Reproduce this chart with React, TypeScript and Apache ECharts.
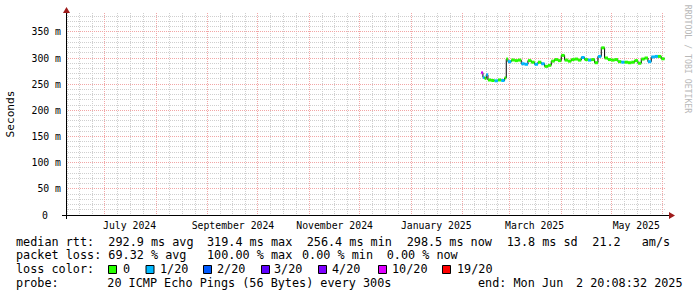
import React, { useEffect, useRef } from "react";
import * as echarts from "echarts";

// ---------- data ----------
const X_START = Date.UTC(2024, 5, 7, 20, 8, 32);
const X_END = Date.UTC(2025, 5, 2, 20, 8, 32);
const Y_MAX = 386;

const dates = [
  "2025-02-13", "2025-02-14", "2025-02-15", "2025-02-16", "2025-02-18", "2025-02-20", "2025-02-22", "2025-02-24", "2025-02-26", "2025-02-27", "2025-02-28",
  "2025-03-02", "2025-03-04", "2025-03-06", "2025-03-08", "2025-03-10", "2025-03-12", "2025-03-14", "2025-03-16", "2025-03-18", "2025-03-20", "2025-03-22", "2025-03-24", "2025-03-26", "2025-03-28", "2025-03-30",
  "2025-04-01", "2025-04-03", "2025-04-05", "2025-04-07", "2025-04-09", "2025-04-11", "2025-04-13", "2025-04-15", "2025-04-17", "2025-04-19", "2025-04-21", "2025-04-23", "2025-04-25", "2025-04-27", "2025-04-29",
  "2025-05-01", "2025-05-03", "2025-05-05", "2025-05-07", "2025-05-09", "2025-05-11", "2025-05-13", "2025-05-15", "2025-05-17", "2025-05-19", "2025-05-21", "2025-05-23", "2025-05-25", "2025-05-27", "2025-05-29", "2025-05-31",
  "2025-06-02",
];

const medianMs = [
  272, 263, 261, 268, 258, 257, 256.4, 258, 257, 262, 298,
  293, 296, 295, 296, 289, 288, 295, 292, 288, 292, 289, 284, 286, 294, 297,
  295, 305, 296, 294, 297, 298, 296, 301, 297, 296, 297, 291, 303, 319.4, 300,
  297, 296, 297, 293, 292, 292, 291, 292, 295, 290, 298, 300, 293, 302, 303, 303,
  298.5,
];

// index into lossLabels / lossColors
const lossIdx = [
  5, 1, 0, 1, 0, 0, 1, 0, 1, 0, 0,
  1, 0, 0, 0, 1, 1, 0, 0, 1, 0, 1, 0, 0, 0, 0,
  0, 0, 0, 0, 0, 0, 0, 1, 0, 1, 0, 0, 1, 0, 0,
  0, 0, 0, 0, 1, 0, 0, 0, 0, 0, 0, 0, 1, 1, 1, 0,
  0,
];

const lossLabels = ["0", "1/20", "2/20", "3/20", "4/20", "10/20", "19/20"];
const lossColors = ["#26ff00", "#00b8ff", "#0059ff", "#5e00ff", "#7e00ff", "#dd00ff", "#ff0000"];

const yTickValues = [0, 50, 100, 150, 200, 250, 300, 350];
const xLabelDates = ["2024-07-16", "2024-09-16", "2024-11-16", "2025-01-16", "2025-03-16", "2025-05-16"];
const monthNames = ["January", "February", "March", "April", "May", "June", "July", "August", "September", "October", "November", "December"];

const rttLegend = ["median rtt:  292.9 ms avg", "319.4 ms max", "256.4 ms min", "298.5 ms now", "13.8 ms sd", "21.2", "am/s"];
const lossLegend = ["packet loss: 69.32 % avg", "100.00 % max", "0.00 % min", "0.00 % now"];
const probeLegend = ["probe:", "20 ICMP Echo Pings (56 Bytes) every 300s", "end: Mon Jun", "2 20:08:32 2025"];

// ---------- layout ----------
const FONT = "DejaVu Sans Mono";
const FS = 11.8;
const AXIS_FS = 9.8;
const rttX = [16, 207, 306.7, 406.7, 506.7, 592.3, 641.7];
const lossX = [16, 207, 302, 386.7];
const probeX = [16, 107.3, 478, 576];
const boxX = [108.5, 146, 203.5, 261.5, 318.5, 378.5, 442.5];
const boxTextX = [123, 160, 217, 274, 332, 392, 457];
const ROW_Y = [241.5, 255.4, 269.4, 283.4];
const MINOR_GRID = "#cfcfcf";
const MAJOR_GRID = "#f2a6a6";

function monthStarts(): number[] {
  const out: number[] = [];
  for (let i = 0; i < 14; i++) out.push(Date.UTC(2024, 5 + i, 1));
  return out;
}

export default function App() {
  const ref = useRef<HTMLDivElement>(null);
  useEffect(() => {
    if (!ref.current) return;
    const chart = echarts.init(ref.current, undefined, { renderer: "svg" });

    const ms = monthStarts();
    const majorX = ms.filter((t) => t > X_START && t < X_END);
    const minorX: number[] = [];
    for (let i = 0; i < ms.length - 1; i++) {
      const s = ms[i], e = ms[i + 1];
      for (let k = 1; k < 4; k++) {
        const t = s + ((e - s) * k) / 4;
        if (t > X_START && t < X_END) minorX.push(t);
      }
    }
    const minorY: number[] = [];
    for (let v = 10; v < Y_MAX; v += 10) if (v % 50 !== 0) minorY.push(v);
    const majorY = yTickValues.filter((v) => v > 0);

    // grid items: [kind(0 vertical,1 horizontal), x, y, major]
    const gridData = [
      ...minorX.map((t) => [0, t, 0, 0]),
      ...minorY.map((v) => [1, X_START, v, 0]),
      ...majorX.map((t) => [0, t, 0, 1]),
      ...majorY.map((v) => [1, X_START, v, 1]),
    ];

    const times = dates.map((d) => Date.parse(d + "T00:00:00Z"));
    const segData = times.map((t, i) => [t, medianMs[i], i === 0 ? t - 86400000 : times[i - 1], lossIdx[i]]);
    const lineData = [[segData[0][2], medianMs[0]], ...times.map((t, i) => [t, medianMs[i]])];

    const text = (x: number, y: number, s: string, extra: any = {}) => ({
      type: "text",
      x,
      y,
      silent: true,
      style: { text: s, fontFamily: FONT, fontSize: FS, fill: "#000", align: "left", verticalAlign: "middle", ...extra },
    });

    const graphics: any[] = [];
    rttLegend.forEach((s, i) => graphics.push(text(rttX[i], ROW_Y[0], s)));
    lossLegend.forEach((s, i) => graphics.push(text(lossX[i], ROW_Y[1], s)));
    graphics.push(text(16, ROW_Y[2], "loss color:"));
    lossLabels.forEach((s, i) => {
      graphics.push({
        type: "rect",
        silent: true,
        shape: { x: boxX[i], y: 265.5, width: 8, height: 8 },
        style: { fill: lossColors[i], stroke: "#000", lineWidth: 1 },
      });
      graphics.push(text(boxTextX[i], ROW_Y[2], s));
    });
    probeLegend.forEach((s, i) => graphics.push(text(probeX[i], ROW_Y[3], s)));
    const seconds: any = text(10, 114, "Seconds", { align: "center", fontSize: 11.2 });
    seconds.rotation = Math.PI / 2;
    graphics.push(seconds);
    graphics.push({
      type: "text",
      x: 688,
      y: 59,
      rotation: -Math.PI / 2,
      silent: true,
      style: { text: "RRDTOOL / TOBI OETIKER", fontFamily: FONT, fontSize: 8.2, fill: "#b8b8b8", align: "center", verticalAlign: "middle" },
    });
    // axis lines + arrows
    graphics.push({ type: "line", silent: true, z: 50, shape: { x1: 62, y1: 215.5, x2: 670, y2: 215.5 }, style: { stroke: "#000", lineWidth: 1 } });
    graphics.push({ type: "line", silent: true, z: 50, shape: { x1: 66.5, y1: 219, x2: 66.5, y2: 12 }, style: { stroke: "#000", lineWidth: 1 } });
    graphics.push({ type: "polygon", silent: true, z: 50, shape: { points: [[669, 212], [669, 219], [675, 215.5]] }, style: { fill: "#9e1b1b" } });
    graphics.push({ type: "polygon", silent: true, z: 50, shape: { points: [[63, 13], [70, 13], [66.5, 7]] }, style: { fill: "#9e1b1b" } });

    chart.setOption({
      animation: false,
      backgroundColor: "#ffffff",
      grid: { left: 66, top: 13, width: 600, height: 202, containLabel: false },
      xAxis: {
        type: "value",
        min: X_START,
        max: X_END,
        axisLine: { show: false },
        axisTick: { show: false },
        splitLine: { show: false },
        axisLabel: {
          customValues: xLabelDates.map((d) => Date.parse(d + "T00:00:00Z")),
          formatter: (v: number) => {
            const d = new Date(v);
            return `${monthNames[d.getUTCMonth()]} ${d.getUTCFullYear()}`;
          },
          fontFamily: FONT,
          fontSize: AXIS_FS,
          color: "#000",
          margin: 5,
          hideOverlap: false,
        },
      },
      yAxis: {
        type: "value",
        min: 0,
        max: Y_MAX,
        interval: 50,
        axisLine: { show: false },
        axisTick: { show: false },
        splitLine: { show: false },
        axisLabel: {
          customValues: yTickValues,
          formatter: (v: number) => (v === 0 ? "{z|0}" : v % 50 === 0 ? `${v} m` : ""),
          rich: { z: { fontFamily: FONT, fontSize: AXIS_FS, color: "#000", padding: [0, 13, 0, 0] } },
          fontFamily: FONT,
          fontSize: AXIS_FS,
          color: "#000",
          margin: 5,
        },
      },
      graphic: graphics,
      series: [
        {
          type: "custom",
          z: 1,
          silent: true,
          clip: false,
          data: gridData,
          encode: { x: 1, y: 2 },
          renderItem: (params: any, api: any) => {
            const cs = params.coordSys;
            const kind = api.value(0);
            const major = api.value(3) === 1;
            const style = { stroke: major ? MAJOR_GRID : MINOR_GRID, lineWidth: 1, lineDash: [1, 1], fill: null };
            if (kind === 0) {
              const x = Math.floor(api.coord([api.value(1), 0])[0]) + 0.5;
              return { type: "line", shape: { x1: x, y1: cs.y, x2: x, y2: cs.y + cs.height }, style };
            }
            const y = Math.floor(api.coord([X_START, api.value(2)])[1]) + 0.5;
            return { type: "line", shape: { x1: cs.x, y1: y, x2: cs.x + cs.width, y2: y }, style };
          },
        },
        {
          type: "line",
          step: "start",
          data: lineData,
          z: 3,
          symbol: "none",
          silent: true,
          lineStyle: { color: "#000", width: 1 },
        },
        {
          type: "custom",
          z: 4,
          silent: true,
          data: segData,
          encode: { x: 0, y: 1 },
          renderItem: (params: any, api: any) => {
            const v = api.value(1);
            const p0 = api.coord([api.value(2), v]);
            const p1 = api.coord([api.value(0), v]);
            return {
              type: "rect",
              shape: { x: p0[0], y: p1[1] - 1.5, width: Math.max(1, p1[0] - p0[0]), height: 3 },
              style: { fill: lossColors[api.value(3)] },
            };
          },
        },
      ],
    });
    return () => chart.dispose();
  }, []);
  return <div ref={ref} style={{ position: "fixed", left: 0, top: 0, width: 697, height: 297, background: "#fff" }} />;
}
